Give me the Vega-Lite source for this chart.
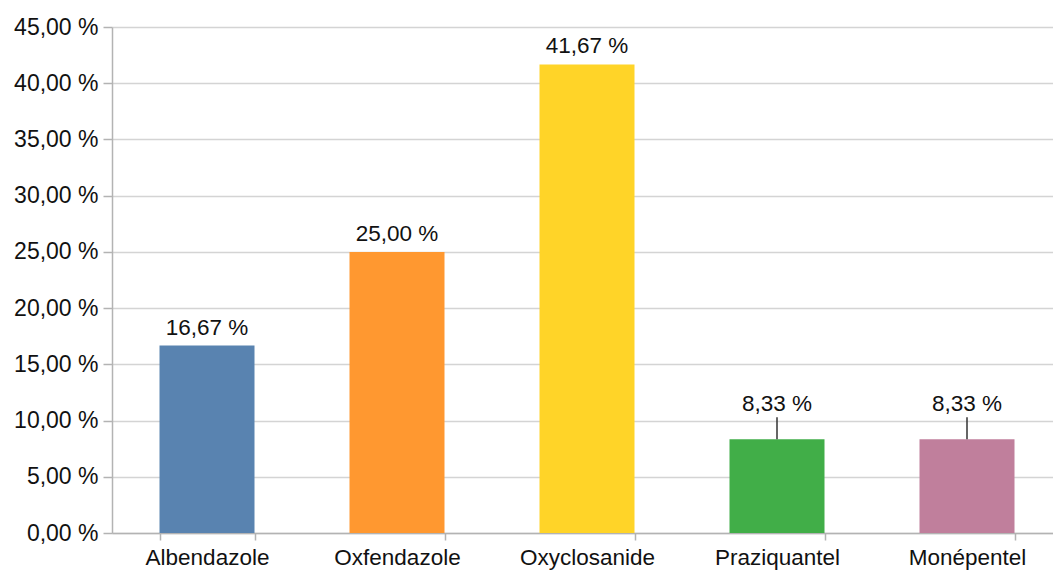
{
  "$schema": "https://vega.github.io/schema/vega-lite/v6.json",
  "autosize": "none",
  "width": 950,
  "height": 506,
  "padding": {"left": 112, "top": 27, "right": -9, "bottom": 39},
  "background": "white",
  "config": {
    "font": "Liberation Sans",
    "view": {"stroke": null}
  },
  "data": {
    "values": [
      {"drug": "Albendazole", "value": 16.67, "lift": "normal"},
      {"drug": "Oxfendazole", "value": 25.0, "lift": "normal"},
      {"drug": "Oxyclosanide", "value": 41.67, "lift": "normal"},
      {"drug": "Praziquantel", "value": 8.33, "lift": "raised"},
      {"drug": "Monépentel", "value": 8.33, "lift": "raised"}
    ]
  },
  "transform": [
    {"calculate": "replace(format(datum.value, '.2f'), '.', ',') + ' %'", "as": "label"}
  ],
  "encoding": {
    "x": {
      "field": "drug",
      "type": "nominal",
      "sort": null,
      "scale": {"paddingInner": 0.5, "paddingOuter": 0.25},
      "axis": {
        "title": null,
        "labelAngle": 0,
        "labelFontSize": 22.5,
        "labelColor": "#111111",
        "labelPadding": 6,
        "tickBand": "extent",
        "tickSize": 7,
        "tickColor": "#b3b3b3",
        "tickWidth": 1.5,
        "domainColor": "#b3b3b3",
        "domainWidth": 1.5,
        "grid": false
      }
    }
  },
  "layer": [
    {
      "mark": {"type": "bar"},
      "encoding": {
        "y": {
          "field": "value",
          "type": "quantitative",
          "scale": {"domain": [0, 45], "nice": false},
          "axis": {
            "title": null,
            "values": [0, 5, 10, 15, 20, 25, 30, 35, 40, 45],
            "labelExpr": "replace(format(datum.value, '.2f'), '.', ',') + ' %'",
            "labelFontSize": 23,
            "labelColor": "#111111",
            "labelPadding": 5,
            "tickSize": 9,
            "tickColor": "#b3b3b3",
            "tickWidth": 1.5,
            "domainColor": "#b3b3b3",
            "domainWidth": 1.5,
            "grid": true,
            "gridColor": "#d4d4d4",
            "gridWidth": 1.5
          }
        },
        "color": {
          "field": "drug",
          "type": "nominal",
          "sort": null,
          "legend": null,
          "scale": {
            "domain": ["Albendazole", "Oxfendazole", "Oxyclosanide", "Praziquantel", "Monépentel"],
            "range": ["#5983B0", "#FF9830", "#FFD428", "#41AE48", "#C07F9C"]
          }
        }
      }
    },
    {
      "transform": [{"filter": "datum.lift == 'raised'"}],
      "mark": {"type": "rule", "color": "#333333", "strokeWidth": 1.5, "y2Offset": -22},
      "encoding": {
        "y": {"field": "value", "type": "quantitative"},
        "y2": {"field": "value"}
      }
    },
    {
      "transform": [{"filter": "datum.lift == 'normal'"}],
      "mark": {"type": "text", "baseline": "bottom", "dy": -6, "fontSize": 22.5, "color": "#111111"},
      "encoding": {
        "y": {"field": "value", "type": "quantitative"},
        "text": {"field": "label", "type": "nominal"}
      }
    },
    {
      "transform": [{"filter": "datum.lift == 'raised'"}],
      "mark": {"type": "text", "baseline": "bottom", "dy": -23, "fontSize": 22.5, "color": "#111111"},
      "encoding": {
        "y": {"field": "value", "type": "quantitative"},
        "text": {"field": "label", "type": "nominal"}
      }
    }
  ]
}
